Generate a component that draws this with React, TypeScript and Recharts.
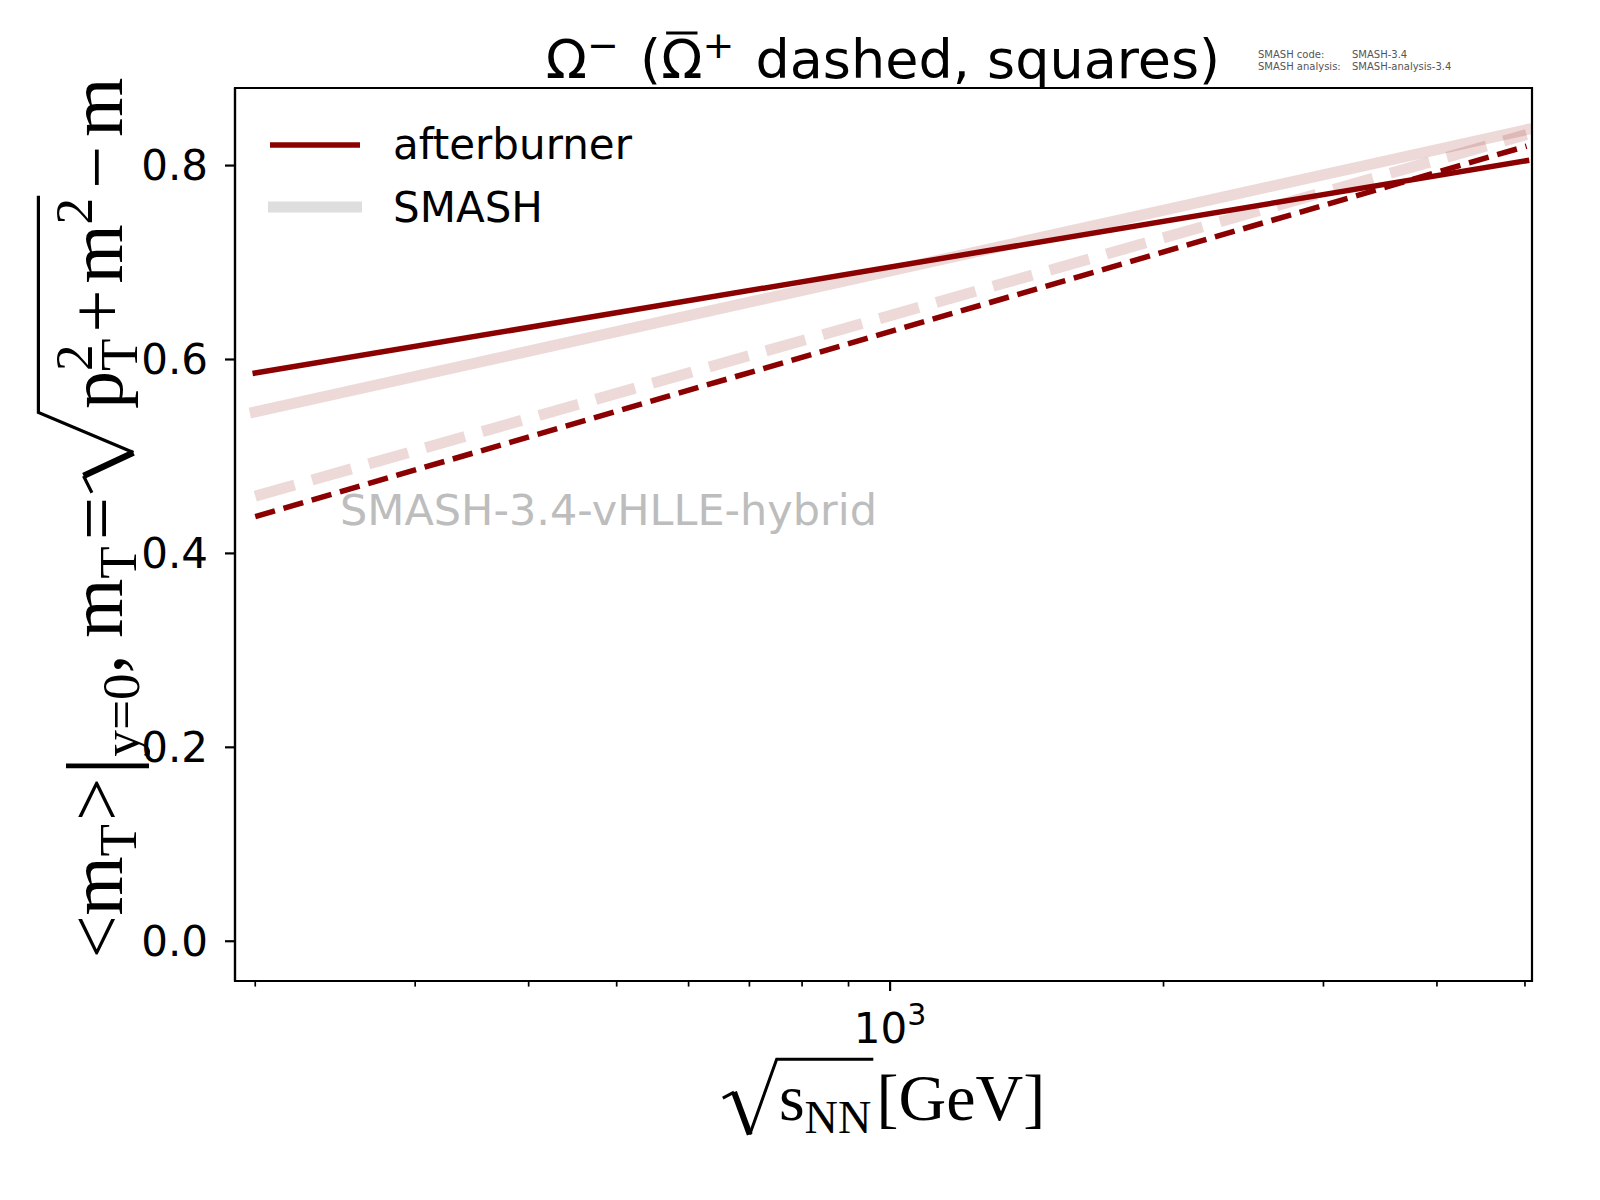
import React from 'react';
import { LineChart, Line, XAxis, YAxis, ReferenceArea, Customized } from 'recharts';

// ---- data ----
const energies = [200, 5020];
const afterburnerOmega = [0.586, 0.805];
const smashOmega = [0.546, 0.837];
const afterburnerAntiOmega = [0.438, 0.82];
const smashAntiOmega = [0.459, 0.832];
const xTicks = [200, 300, 400, 500, 600, 700, 800, 900, 1000, 2000, 3000, 4000, 5000];
const yTicks = [0, 0.2, 0.4, 0.6, 0.8];
const legendLabels = ['afterburner', 'SMASH'];
const watermark = 'SMASH-3.4-vHLLE-hybrid';
const creditKeys = ['SMASH code:', 'SMASH analysis:'];
const creditValues = ['SMASH-3.4', 'SMASH-analysis-3.4'];

const data = energies.map((e, i) => ({
  e,
  ab: afterburnerOmega[i],
  sm: smashOmega[i],
  abAnti: afterburnerAntiOmega[i],
  smAnti: smashAntiOmega[i],
}));

const DARK = '#8b0000';
const SANS = "'DejaVu Sans', sans-serif";
const SERIF = "'Liberation Serif', 'DejaVu Serif', serif";
const X_DOMAIN: [number, number] = [190, 5090];
const Y_DOMAIN: [number, number] = [-0.041, 0.88];

// ---- text measuring for math-like labels ----
let ctx: CanvasRenderingContext2D | null = null;
function textWidth(t: string, size: number, family: string): number {
  if (!ctx) ctx = document.createElement('canvas').getContext('2d');
  if (!ctx) return t.length * size * 0.5;
  ctx.font = `${size}px ${family}`;
  return ctx.measureText(t).width;
}

type Piece = { t?: string; s?: number; dy?: number; adv?: boolean; gap?: number; rad?: 'start' | 'end'; w?: number; bar?: boolean };

function layoutMath(pieces: Piece[], family: string) {
  let x = 0;
  const items: { t: string; x: number; dy: number; s: number; w: number; bar?: boolean }[] = [];
  let radStart = 0;
  let radW = 0;
  let radEnd = 0;
  for (const p of pieces) {
    if (p.gap) {
      x += p.gap;
      continue;
    }
    if (p.rad === 'start') {
      radStart = x;
      radW = p.w || 0;
      x += radW;
      continue;
    }
    if (p.rad === 'end') {
      radEnd = x;
      continue;
    }
    const w = textWidth(p.t || '', p.s || 10, family);
    items.push({ t: p.t || '', x, dy: p.dy || 0, s: p.s || 10, w, bar: p.bar });
    if (p.adv !== false) x += w;
  }
  return { items, width: x, radStart, radW, radEnd };
}

function Radical({ x0, w, xEnd, h, depth, t }: { x0: number; w: number; xEnd: number; h: number; depth: number; t: number }) {
  const A = [x0, -0.36 * h];
  const B = [x0 + 0.2 * w, -0.46 * h];
  const C = [x0 + 0.48 * w, depth];
  const D = [x0 + 0.96 * w, -h];
  const E = [xEnd + 2, -h];
  return (
    <g fill="none" stroke="#000" strokeLinejoin="miter">
      <path d={`M${A[0]},${A[1]} L${B[0]},${B[1]}`} strokeWidth={t} />
      <path d={`M${B[0]},${B[1]} L${C[0]},${C[1]}`} strokeWidth={t * 2} />
      <path d={`M${C[0]},${C[1]} L${D[0]},${D[1]} L${E[0]},${E[1]}`} strokeWidth={t} />
    </g>
  );
}

function MathLabel({ pieces, cx, baseline, rotate, h, depth, t }: { pieces: Piece[]; cx: number; baseline: number; rotate: boolean; h: number; depth: number; t: number }) {
  const L = layoutMath(pieces, "'Liberation Serif'");
  const transform = rotate
    ? `translate(${baseline}, ${cx}) rotate(-90) translate(${-L.width / 2}, 0)`
    : `translate(${cx - L.width / 2}, ${baseline})`;
  return (
    <g transform={transform}>
      {L.items.map((it, i) => (
        <text key={i} x={it.x} y={it.dy} fontSize={it.s} fontFamily={SERIF} fill="#000">
          {it.t}
        </text>
      ))}
      <Radical x0={L.radStart} w={L.radW} xEnd={L.radEnd} h={h} depth={depth} t={t} />
    </g>
  );
}

function Title({ cx, baseline }: { cx: number; baseline: number }) {
  const F = 54;
  const S = 38;
  const pieces: Piece[] = [
    { t: 'Ω', s: F },
    { t: '−', s: S, dy: -20 },
    { gap: 4 },
    { t: ' (', s: F },
    { t: 'Ω', s: F, bar: true },
    { t: '+', s: S, dy: -20 },
    { gap: 4 },
    { t: ' dashed, squares)', s: F },
  ];
  const L = layoutMath(pieces, "'DejaVu Sans'");
  return (
    <g transform={`translate(${cx - L.width / 2}, ${baseline})`}>
      {L.items.map((it, i) => (
        <g key={i}>
          <text x={it.x} y={it.dy} fontSize={it.s} fontFamily={SANS} fill="#000" xmlSpace="preserve" style={{ whiteSpace: 'pre' }}>
            {it.t}
          </text>
          {it.bar && <line x1={it.x + it.w * 0.12} x2={it.x + it.w * 0.88} y1={-45} y2={-45} stroke="#000" strokeWidth={3} />}
        </g>
      ))}
    </g>
  );
}

const YF = 76;
const YS = YF * 0.7;
const yLabelPieces: Piece[] = [
  { t: '<', s: YF },
  { t: 'm', s: YF },
  { t: 'T', s: YS, dy: 0.18 * YF },
  { gap: 0.04 * YF },
  { t: '>', s: YF },
  { gap: 0.04 * YF },
  { t: '|', s: YF * 1.2, dy: 0.1 * YF },
  { t: 'y=0', s: YS, dy: 0.22 * YF },
  { t: ',', s: YF },
  { gap: 0.22 * YF },
  { t: 'm', s: YF },
  { t: 'T', s: YS, dy: 0.18 * YF },
  { gap: 0.08 * YF },
  { t: '=', s: YF },
  { gap: 0.06 * YF },
  { rad: 'start', w: 1.1 * YF },
  { t: 'p', s: YF },
  { t: '2', s: YS, dy: -0.4 * YF, adv: false },
  { t: 'T', s: YS, dy: 0.2 * YF },
  { gap: 0.08 * YF },
  { t: '+', s: YF },
  { gap: 0.08 * YF },
  { t: 'm', s: YF },
  { t: '2', s: YS, dy: -0.4 * YF },
  { rad: 'end' },
  { gap: 0.12 * YF },
  { t: '−', s: YF },
  { gap: 0.12 * YF },
  { t: 'm', s: YF },
];

const XF = 66;
const XS = XF * 0.7;
const xLabelPieces: Piece[] = [
  { rad: 'start', w: 0.85 * XF },
  { t: 's', s: XF },
  { t: 'NN', s: XS, dy: 0.2 * XF },
  { rad: 'end' },
  { gap: 0.08 * XF },
  { t: '[GeV]', s: XF },
];

function Annotations() {
  return (
    <g>
      <Title cx={883} baseline={78} />
      {/* credits */}
      {creditKeys.map((k, i) => (
        <g key={k}>
          <text x={1258} y={58 + i * 12} fontSize={10} fontFamily={SANS} fill="#555">{k}</text>
          <text x={1352} y={58 + i * 12} fontSize={10} fontFamily={SANS} fill="#555">{creditValues[i]}</text>
        </g>
      ))}
      {/* watermark */}
      <text x={340} y={525} fontSize={43} fontFamily={SANS} fill="#bdbdbd">{watermark}</text>
      {/* legend */}
      <line x1={270} x2={360} y1={145} y2={145} stroke={DARK} strokeWidth={5.5} />
      <text x={393} y={159} fontSize={42} fontFamily={SANS} fill="#000">{legendLabels[0]}</text>
      <line x1={268} x2={362} y1={207} y2={207} stroke="#dedede" strokeWidth={11} />
      <text x={393} y={222} fontSize={42} fontFamily={SANS} fill="#000">{legendLabels[1]}</text>
      {/* axis labels */}
      <MathLabel pieces={yLabelPieces} cx={518} baseline={122} rotate h={1.1 * YF} depth={0.15 * YF} t={3.2} />
      <MathLabel pieces={xLabelPieces} cx={884} baseline={1120} rotate={false} h={0.92 * XF} depth={0.22 * XF} t={3} />
    </g>
  );
}

const XTick = (props: any) => {
  const { x, y, payload } = props;
  const major = payload && payload.value === 1000;
  return (
    <g>
      <line x1={x} x2={x} y1={y} y2={y + (major ? 10 : 5.6)} stroke="#000" strokeWidth={major ? 2.2 : 1.7} />
      {major && (
        <text x={x} y={y + 62} textAnchor="middle" fontSize={42} fontFamily={SANS} fill="#000">
          10<tspan dy={-18} fontSize={30}>3</tspan>
        </text>
      )}
    </g>
  );
};

export default function App() {
  return (
    <div style={{ position: 'absolute', left: 0, top: 0, width: 1600, height: 1200, background: '#fff' }}>
      <LineChart width={1600} height={1200} data={data} margin={{ top: 88, right: 68, bottom: 0, left: 0 }}>
        <XAxis
          dataKey="e"
          type="number"
          scale="log"
          domain={X_DOMAIN}
          allowDataOverflow
          ticks={xTicks}
          interval={0}
          height={219}
          tickSize={0}
          tickMargin={0}
          tickLine={false}
          tick={<XTick />}
          axisLine={{ stroke: '#000', strokeWidth: 2.2 }}
        />
        <YAxis
          type="number"
          domain={Y_DOMAIN}
          allowDataOverflow
          ticks={yTicks}
          interval={0}
          width={235}
          tickSize={10}
          tickMargin={17}
          tickFormatter={(v: number) => v.toFixed(1)}
          tick={{ fontSize: 42, fill: '#000', fontFamily: SANS }}
          tickLine={{ stroke: '#000', strokeWidth: 2.2 }}
          axisLine={{ stroke: '#000', strokeWidth: 2.2 }}
        />
        <ReferenceArea
          x1={X_DOMAIN[0]}
          x2={X_DOMAIN[1]}
          y1={Y_DOMAIN[0]}
          y2={Y_DOMAIN[1]}
          fill="none"
          fillOpacity={0}
          stroke="#000"
          strokeWidth={2.2}
          ifOverflow="visible"
        />
        <Line dataKey="sm" stroke={DARK} strokeOpacity={0.15} strokeWidth={11} strokeLinecap="square" dot={false} activeDot={false} isAnimationActive={false} />
        <Line dataKey="smAnti" stroke={DARK} strokeOpacity={0.15} strokeWidth={11} strokeDasharray="41 18" dot={false} activeDot={false} isAnimationActive={false} />
        <Line dataKey="ab" stroke={DARK} strokeWidth={5.5} strokeLinecap="square" dot={false} activeDot={false} isAnimationActive={false} />
        <Line dataKey="abAnti" stroke={DARK} strokeWidth={5.5} strokeDasharray="20.5 8.9" dot={false} activeDot={false} isAnimationActive={false} />
        <Customized component={<Annotations />} />
      </LineChart>
    </div>
  );
}
